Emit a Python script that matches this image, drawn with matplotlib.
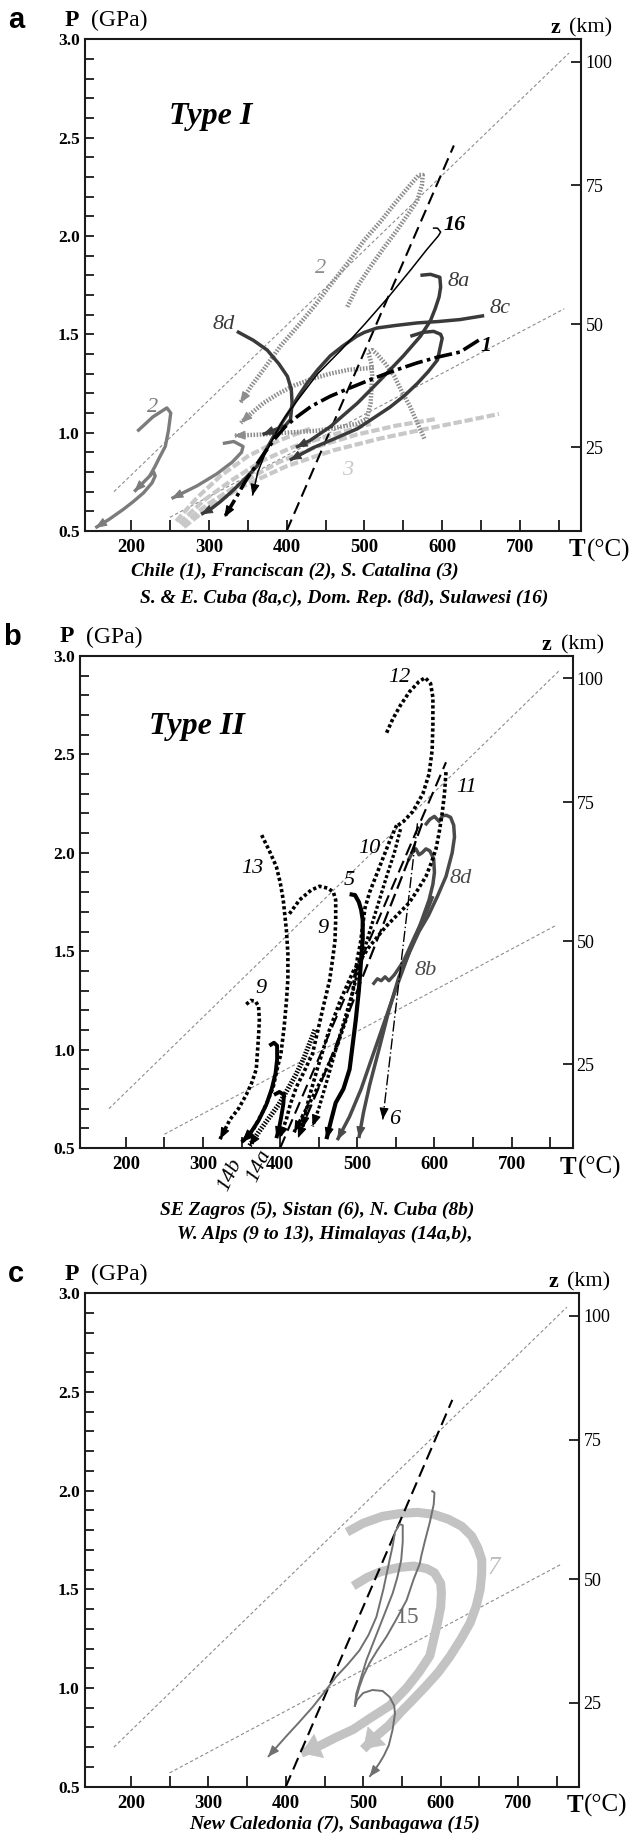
import numpy as np
import matplotlib
matplotlib.use("Agg")
import matplotlib.pyplot as plt

plt.rcParams['font.family'] = ['Liberation Serif', 'DejaVu Serif']

W, H = 630, 1836
fig = plt.figure(figsize=(6.3, 18.36), dpi=100)

# ---------------- axes / scales ----------------
T_LIM = (141, 779)
P_LIM = (0.5, 3.0)
T_MAJOR = [200, 300, 400, 500, 600, 700]
T_MINOR = [250, 350, 450, 550, 650, 750]
P_MAJOR = [0.5, 1.0, 1.5, 2.0, 2.5, 3.0]
P_MINOR = [0.6, 0.7, 0.8, 0.9, 1.1, 1.2, 1.3, 1.4, 1.6, 1.7, 1.8, 1.9,
           2.1, 2.2, 2.3, 2.4, 2.6, 2.7, 2.8, 2.9]
Z_LABELS = ['25', '50', '75', '100']
Z_AT_P = [0.925, 1.55, 2.258, 2.887]

# reference lines (common)
geo_hi_T = [178, 763]
geo_hi_P = [0.70, 2.93]
geo_lo_T = [250, 757]
geo_lo_P = [0.57, 1.63]
ref_T = [400, 615]
ref_P = [0.50, 2.46]

# ---------------- panel a data ----------------
a_chile_T = [647, 623, 595, 568, 538, 508, 480, 456, 432, 413, 398, 385, 372, 360, 348, 335, 320]
a_chile_P = [1.47, 1.41, 1.385, 1.355, 1.315, 1.27, 1.225, 1.185, 1.135, 1.08, 1.03, 0.97, 0.90, 0.83, 0.76, 0.67, 0.57]

a_8c_T = [654, 623, 595, 568, 540, 516, 500, 490, 472, 456, 440, 426, 415, 405, 394, 383, 372, 362, 345, 328, 315, 302, 290]
a_8c_P = [1.595, 1.575, 1.565, 1.558, 1.545, 1.532, 1.51, 1.49, 1.44, 1.39, 1.32, 1.25, 1.185, 1.117, 1.05, 0.98, 0.90, 0.83, 0.76, 0.695, 0.65, 0.61, 0.585]

a_8a_T = [572, 585, 597, 598, 596, 591, 585, 572, 550, 521, 491, 456, 430, 412]
a_8a_P = [1.80, 1.805, 1.79, 1.74, 1.69, 1.63, 1.57, 1.49, 1.39, 1.27, 1.15, 1.03, 0.96, 0.925]

a_loop_T = [559, 575, 589, 598, 600, 594, 582, 568, 552, 533, 512, 491, 462, 435, 404]
a_loop_P = [1.49, 1.51, 1.515, 1.50, 1.48, 1.37, 1.31, 1.25, 1.19, 1.13, 1.075, 1.02, 0.97, 0.925, 0.86]

a_8d_T = [336, 357, 375, 390, 401, 406, 407, 405, 398, 385, 369]
a_8d_P = [1.515, 1.47, 1.42, 1.35, 1.286, 1.22, 1.151, 1.067, 1.035, 1.015, 0.99]

a_16_T = [588, 594, 598, 595, 580, 560, 531, 500, 470, 440, 415, 398, 385, 372, 363, 356]
a_16_P = [2.04, 2.04, 2.02, 2.00, 1.93, 1.83, 1.69, 1.55, 1.42, 1.30, 1.17, 1.08, 0.99, 0.89, 0.80, 0.68]

a_2loop_T = [478, 492, 508, 525, 542, 556, 568, 574, 575, 570, 559, 540, 520, 500, 478, 456, 435, 414, 392, 372, 355, 340]
a_2loop_P = [1.64, 1.75, 1.845, 1.94, 2.03, 2.11, 2.18, 2.26, 2.31, 2.31, 2.26, 2.17, 2.07, 1.98, 1.86, 1.75, 1.64, 1.54, 1.44, 1.33, 1.24, 1.15]

a_hatB_T = [577, 568, 559, 548, 538, 527, 516, 510, 505, 509, 510, 508, 503, 490, 470, 440, 400, 365, 332]
a_hatB_P = [0.97, 1.05, 1.13, 1.21, 1.29, 1.35, 1.40, 1.42, 1.41, 1.35, 1.29, 1.15, 1.07, 1.045, 1.03, 1.01, 1.00, 0.99, 0.985]

a_hatD_T = [512, 480, 456, 430, 410, 390, 370, 355, 341]
a_hatD_P = [1.33, 1.32, 1.30, 1.27, 1.24, 1.20, 1.15, 1.10, 1.05]

a_3a_T = [268, 300, 340, 400, 460, 520, 580, 630, 673]
a_3a_P = [0.52, 0.62, 0.72, 0.83, 0.91, 0.97, 1.02, 1.06, 1.095]
a_3b_T = [265, 300, 340, 390, 440, 490, 540, 593]
a_3b_P = [0.53, 0.64, 0.74, 0.85, 0.93, 0.99, 1.035, 1.07]
a_3c_T = [262, 295, 330, 370, 410, 460, 508]
a_3c_P = [0.54, 0.66, 0.76, 0.86, 0.93, 0.99, 1.045]
a_3d_T = [258, 285, 315, 350, 390, 430]
a_3d_P = [0.55, 0.67, 0.78, 0.88, 0.96, 1.02]

a_2lowA_T = [208, 228, 246, 251, 248, 244, 236, 231, 224, 214, 204]
a_2lowA_P = [1.007, 1.08, 1.126, 1.10, 1.01, 0.93, 0.87, 0.83, 0.78, 0.74, 0.70]
a_2lowB_T = [224, 229, 231, 227, 216, 203, 190, 172, 154]
a_2lowB_P = [0.78, 0.80, 0.78, 0.745, 0.694, 0.65, 0.61, 0.56, 0.516]
a_2hook_T = [318, 332, 344, 342, 330, 310, 285, 252]
a_2hook_P = [0.945, 0.955, 0.93, 0.90, 0.85, 0.79, 0.73, 0.665]

# ---------------- panel b data ----------------
b_12_T = [538, 546, 556, 568, 580, 588, 595, 598, 598, 597, 593, 585, 572, 560, 551]
b_12_P = [2.61, 2.68, 2.75, 2.82, 2.87, 2.89, 2.86, 2.79, 2.65, 2.52, 2.40, 2.30, 2.21, 2.16, 2.135]
b_10_T = [551, 542, 533, 524, 516, 510, 507, 504, 500, 494, 486, 474, 460, 445, 430, 418]
b_10_P = [2.14, 2.06, 1.97, 1.88, 1.80, 1.72, 1.63, 1.54, 1.46, 1.29, 1.16, 1.02, 0.90, 0.78, 0.67, 0.58]
b_11_T = [615, 613, 610, 606, 602, 596, 589, 578, 567, 552, 537, 515, 495, 478, 462, 448, 437, 429]
b_11_P = [2.41, 2.30, 2.20, 2.10, 2.02, 1.95, 1.88, 1.81, 1.745, 1.685, 1.625, 1.52, 1.40, 1.25, 1.08, 0.90, 0.75, 0.60]
b_13_T = [376, 386, 395, 400, 404, 408, 410, 410, 408, 405, 401, 396, 391, 384, 377, 366, 352]
b_13_P = [2.09, 2.01, 1.93, 1.85, 1.76, 1.61, 1.49, 1.36, 1.24, 1.11, 0.98, 0.90, 0.81, 0.74, 0.68, 0.60, 0.535]
b_9u_T = [412, 425, 440, 451, 462, 469, 472, 472, 471, 468, 464, 456, 442, 430, 421, 413, 408, 399]
b_9u_P = [1.69, 1.76, 1.81, 1.83, 1.82, 1.80, 1.76, 1.66, 1.55, 1.46, 1.35, 1.22, 0.98, 0.88, 0.81, 0.72, 0.645, 0.55]
b_9l_T = [356, 362, 368, 372, 373, 372, 369, 363, 356, 346, 335, 322]
b_9l_P = [1.23, 1.25, 1.245, 1.22, 1.15, 1.07, 0.90, 0.83, 0.77, 0.70, 0.645, 0.545]
b_dot4_T = [556, 548, 538, 527, 516, 505, 493, 478, 462, 450, 442]
b_dot4_P = [2.12, 2.00, 1.88, 1.74, 1.60, 1.45, 1.28, 1.08, 0.86, 0.70, 0.61]
b_hook_T = [386, 392, 396, 396, 394, 389, 382, 372, 360, 350]
b_hook_P = [1.02, 1.035, 1.02, 0.95, 0.88, 0.80, 0.72, 0.64, 0.567, 0.53]
b_5_T = [490, 497, 502, 505, 507, 507, 505, 502, 498, 490, 482, 472, 466, 460]
b_5_P = [1.79, 1.785, 1.75, 1.71, 1.66, 1.56, 1.46, 1.30, 1.15, 0.90, 0.80, 0.73, 0.64, 0.545]
b_14a_T = [392, 399, 405, 404, 401, 398, 395]
b_14a_P = [0.77, 0.785, 0.77, 0.72, 0.65, 0.59, 0.55]
b_14b_T = [445, 438, 430, 420, 410, 398, 385, 372, 360]
b_14b_P = [1.10, 1.03, 0.95, 0.87, 0.80, 0.72, 0.65, 0.58, 0.51]
b_6_T = [578, 533]
b_6_P = [2.15, 0.645]
b_dash_T = [584, 575, 563, 548, 532, 515, 498, 480, 462, 445, 432, 423]
b_dash_P = [2.15, 2.05, 1.93, 1.78, 1.62, 1.45, 1.28, 1.10, 0.92, 0.76, 0.64, 0.55]
b_8d_T = [588, 594, 600, 606, 611, 616, 621, 625, 626, 623, 615, 604, 592, 580, 567, 554, 541, 528, 516, 508, 502]
b_8d_P = [2.14, 2.17, 2.185, 2.16, 2.19, 2.19, 2.18, 2.14, 2.08, 2.00, 1.88, 1.78, 1.68, 1.60, 1.49, 1.37, 1.20, 1.00, 0.82, 0.68, 0.55]
b_8x_T = [566, 571, 576, 580, 584, 589, 594, 599, 600, 598, 593, 582, 567, 552, 536, 520, 505, 490, 474]
b_8x_P = [1.96, 2.00, 2.02, 1.99, 2.00, 2.02, 2.01, 1.97, 1.90, 1.84, 1.76, 1.64, 1.49, 1.33, 1.15, 0.97, 0.80, 0.66, 0.54]
b_8b_T = [520, 526, 531, 536, 541, 548, 560, 575, 590, 598]
b_8b_P = [1.33, 1.36, 1.35, 1.37, 1.35, 1.38, 1.45, 1.58, 1.70, 1.78]

# ---------------- panel c data ----------------
c_7out_T = [479, 500, 525, 549, 570, 591, 610, 627, 640, 648, 653, 653, 651, 646, 638, 626, 612, 597, 581, 565, 549, 533, 518, 500]
c_7out_P = [1.79, 1.835, 1.87, 1.885, 1.89, 1.88, 1.855, 1.82, 1.77, 1.71, 1.65, 1.58, 1.50, 1.416, 1.33, 1.247, 1.16, 1.08, 1.01, 0.944, 0.88, 0.81, 0.76, 0.69]
c_7in_T = [487, 505, 523, 545, 565, 582, 592, 600, 601, 600, 596, 586, 572, 556, 534, 510, 487, 465, 445, 420]
c_7in_P = [1.517, 1.56, 1.59, 1.61, 1.618, 1.605, 1.584, 1.53, 1.483, 1.41, 1.33, 1.163, 1.08, 1.00, 0.91, 0.85, 0.79, 0.75, 0.71, 0.67]
c_15m_T = [489, 491, 497, 504, 512, 521, 530, 538, 544, 549, 551, 551, 547, 541, 538, 534, 526, 517, 507, 495, 480, 465, 450, 435, 418, 400, 388, 377]
c_15m_P = [0.905, 0.97, 1.05, 1.14, 1.22, 1.31, 1.40, 1.48, 1.56, 1.648, 1.74, 1.825, 1.83, 1.79, 1.72, 1.648, 1.50, 1.36, 1.27, 1.19, 1.12, 1.057, 0.98, 0.905, 0.83, 0.753, 0.70, 0.651]
c_15z_T = [489, 492, 500, 512, 525, 534, 540, 541, 538, 533, 527, 521, 514, 508]
c_15z_P = [0.905, 0.94, 0.975, 0.99, 0.985, 0.955, 0.91, 0.87, 0.79, 0.71, 0.66, 0.62, 0.58, 0.55]
c_15a_T = [588, 592, 591, 586, 580, 575, 573, 565, 556, 543, 530, 518, 508, 500, 495, 491, 490]
c_15a_P = [2.00, 1.99, 1.93, 1.84, 1.75, 1.67, 1.63, 1.55, 1.445, 1.35, 1.26, 1.19, 1.125, 1.06, 1.005, 0.95, 0.92]

# ---------------- helpers ----------------
def px_axes(l, t, r, b):
    return fig.add_axes([l / W, 1 - b / H, (r - l) / W, (b - t) / H])

def ftext(px, py, s, **kw):
    fig.text(px / W, 1 - py / H, s, **kw)

def add_arrow(ax, T, P, color, hl=0.7, hw=0.28, ms=10, alw=0.8):
    p1 = ax.transData.transform((T[-1], P[-1]))
    p0 = ax.transData.transform((T[-2], P[-2]))
    d = p1 - p0
    d = d / np.hypot(d[0], d[1])
    L = hl * ms
    ax.annotate('', xy=(T[-1], P[-1]), xycoords='data',
                xytext=(-d[0] * L, -d[1] * L), textcoords='offset points',
                arrowprops=dict(arrowstyle=f'-|>,head_length={hl},head_width={hw}',
                                color=color, lw=alw, mutation_scale=ms,
                                shrinkA=0, shrinkB=0))

def path(ax, T, P, color, lw, ls='-', arrow=True, **akw):
    ax.plot(T, P, color=color, lw=lw, ls=ls, solid_capstyle='butt',
            dash_capstyle='butt', solid_joinstyle='round')
    if arrow:
        add_arrow(ax, T, P, color, **akw)

def setup(ax, letter, lpx, tpx, rpx, bpx):
    ax.set_xlim(*T_LIM)
    ax.set_ylim(*P_LIM)
    for s in ax.spines.values():
        s.set_linewidth(1.5)
        s.set_color('#1a1a1a')
    ax.set_xticks(T_MAJOR)
    ax.set_xticks(T_MINOR, minor=True)
    ax.set_yticks(P_MAJOR)
    ax.set_yticks(P_MINOR, minor=True)
    ax.set_xticklabels([str(t) for t in T_MAJOR], fontweight='bold', fontsize=13.5)
    ax.set_yticklabels([f'{p:.1f}' for p in P_MAJOR], fontweight='bold', fontsize=12.5)
    ax.tick_params(axis='x', which='both', direction='in', length=8, width=1.3,
                   pad=6, top=False, color='#1a1a1a')
    ax.tick_params(axis='y', which='both', direction='in', length=6.5, width=1.3,
                   pad=4, right=False, color='#1a1a1a')
    ax2 = ax.twinx()
    ax2.set_ylim(*P_LIM)
    ax2.set_yticks(Z_AT_P)
    ax2.set_yticklabels(Z_LABELS, fontsize=13)
    ax2.tick_params(axis='y', direction='in', length=7, width=1.3, pad=3, color='#1a1a1a')
    for s in ax2.spines.values():
        s.set_visible(False)
    # reference lines
    ax.plot(geo_hi_T, geo_hi_P, color='#8c8c8c', lw=0.8, ls=(0, (3, 2.2)))
    ax.plot(geo_lo_T, geo_lo_P, color='#8c8c8c', lw=0.8, ls=(0, (3, 2.2)))
    # outside labels
    ym = tpx - 19
    ftext(lpx - 77, ym, letter, fontfamily='Liberation Sans', fontweight='bold',
          fontsize=21, ha='left', va='center')
    ftext(lpx - 21, ym, 'P', fontweight='bold', fontsize=17, ha='left', va='center')
    ftext(lpx + 6, ym, '(GPa)', fontsize=17, ha='left', va='center')
    ftext(rpx - 31, tpx - 11, 'z', fontweight='bold', fontsize=16, ha='left', va='center')
    ftext(rpx - 12, tpx - 11, '(km)', fontsize=16, ha='left', va='center')
    ftext(rpx - 13, bpx + 19, 'T', fontweight='bold', fontsize=18, ha='left', va='center')
    ftext(rpx + 5, bpx + 19, '(°C)', fontsize=18, ha='left', va='center')

DARK = '#3a3a3a'
GRAY = '#7c7c7c'
HATCH = '#8d8d8d'
LIGHT = '#c8c8c8'
lab = dict(fontstyle='italic', fontsize=16, ha='center', va='center')
cap = dict(fontweight='bold', fontstyle='italic', fontsize=14, ha='center', va='center')
HATCH_LS = (0, (0.35, 0.35))

# ================= panel a =================
axa = px_axes(85.2, 39.3, 581.4, 531)
setup(axa, 'a', 85.2, 39.3, 581.4, 531)
for T, P in [(a_3a_T, a_3a_P), (a_3b_T, a_3b_P), (a_3c_T, a_3c_P), (a_3d_T, a_3d_P)]:
    path(axa, T, P, LIGHT, 3.0, ls=(0, (2.0, 0.7)), arrow=False)
path(axa, a_2loop_T, a_2loop_P, HATCH, 3.2, ls=HATCH_LS)
path(axa, a_hatB_T, a_hatB_P, HATCH, 3.2, ls=HATCH_LS)
path(axa, a_hatD_T, a_hatD_P, HATCH, 3.2, ls=HATCH_LS)
path(axa, a_2lowA_T, a_2lowA_P, GRAY, 2.4)
path(axa, a_2lowB_T, a_2lowB_P, GRAY, 2.4)
path(axa, a_2hook_T, a_2hook_P, GRAY, 2.4)
axa.plot(ref_T, ref_P, color='black', lw=1.5, ls=(0, (6, 3)))
path(axa, a_8c_T, a_8c_P, DARK, 2.5)
path(axa, a_8a_T, a_8a_P, DARK, 2.5)
path(axa, a_loop_T, a_loop_P, DARK, 2.5)
path(axa, a_8d_T, a_8d_P, DARK, 2.5)
path(axa, a_chile_T, a_chile_P, 'black', 2.6, ls=(0, (5, 1.2, 1, 1.2)))
path(axa, a_16_T, a_16_P, 'black', 1.1)
axa.text(302, 2.61, 'Type I', fontweight='bold', fontstyle='italic', fontsize=23,
         ha='center', va='center')
axa.text(443, 1.835, '2', color=HATCH, **lab)
axa.text(616, 2.054, '16', fontweight='bold', **lab)
axa.text(621, 1.768, '8a', color=DARK, **lab)
axa.text(675, 1.63, '8c', color=DARK, **lab)
axa.text(319, 1.552, '8d', color=DARK, **lab)
axa.text(657, 1.443, '1', fontweight='bold', **lab)
axa.text(228, 1.13, '2', color=GRAY, **lab)
axa.text(479, 0.81, '3', color=LIGHT, **lab)
ftext(295, 571.5, 'Chile (1), Franciscan (2), S. Catalina (3)', **cap)
ftext(344.5, 598, 'S. & E. Cuba (8a,c), Dom. Rep. (8d), Sulawesi (16)', **cap)

# ================= panel b =================
axb = px_axes(80.4, 656, 572.5, 1148)
setup(axb, 'b', 80.4, 656, 572.5, 1148)
axb.plot(ref_T, ref_P, color='black', lw=1.5, ls=(0, (6, 3)))
DOT = (0, (0.9, 0.7))
path(axb, b_8b_T, b_8b_P, '#4a4a4a', 2.4, arrow=False)
path(axb, b_8d_T, b_8d_P, '#4a4a4a', 2.5)
path(axb, b_8x_T, b_8x_P, '#4a4a4a', 2.5)
path(axb, b_12_T, b_12_P, 'black', 2.6, ls=DOT, arrow=False)
path(axb, b_10_T, b_10_P, 'black', 2.6, ls=DOT)
path(axb, b_11_T, b_11_P, 'black', 2.6, ls=DOT)
path(axb, b_13_T, b_13_P, 'black', 2.6, ls=DOT)
path(axb, b_9u_T, b_9u_P, 'black', 2.6, ls=DOT)
path(axb, b_9l_T, b_9l_P, 'black', 2.6, ls=DOT)
path(axb, b_dot4_T, b_dot4_P, 'black', 2.4, ls=DOT)
path(axb, b_dash_T, b_dash_P, 'black', 1.6, ls=(0, (6, 2.5)))
path(axb, b_6_T, b_6_P, 'black', 1.0, ls=(0, (8, 2, 1, 2)))
path(axb, b_14b_T, b_14b_P, 'black', 3.6, ls=(0, (0.3, 0.3)))
path(axb, b_hook_T, b_hook_P, 'black', 2.8)
path(axb, b_14a_T, b_14a_P, 'black', 2.8)
path(axb, b_5_T, b_5_P, 'black', 3.0)
axb.text(292, 2.64, 'Type II', fontweight='bold', fontstyle='italic', fontsize=23,
         ha='center', va='center')
axb.text(554, 2.89, '12', **lab)
axb.text(642, 2.33, '11', **lab)
axb.text(515, 2.02, '10', **lab)
axb.text(364, 1.92, '13', **lab)
axb.text(489, 1.86, '5', **lab)
axb.text(634, 1.867, '8d', color='#4a4a4a', **lab)
axb.text(455, 1.613, '9', **lab)
axb.text(375, 1.31, '9', **lab)
axb.text(588, 1.40, '8b', color='#4a4a4a', **lab)
axb.text(548, 0.645, '6', **lab)
axb.text(334.6, 0.365, '14b', rotation=65, clip_on=False, **lab)
axb.text(373, 0.41, '14a', rotation=65, clip_on=False, **lab)
ftext(317.4, 1210, 'SE Zagros (5), Sistan (6), N. Cuba (8b)', **cap)
ftext(325, 1234, 'W. Alps (9 to 13), Himalayas (14a,b),', **cap)

# ================= panel c =================
axc = px_axes(85.2, 1293.3, 579.3, 1786.7)
setup(axc, 'c', 85.2, 1293.3, 579.3, 1786.7)
path(axc, c_7out_T, c_7out_P, '#c3c3c3', 6.5, hl=1.1, hw=0.75, ms=12, alw=0.5)
path(axc, c_7in_T, c_7in_P, '#c3c3c3', 6.5, hl=1.1, hw=0.75, ms=12, alw=0.5)
axc.plot(ref_T, ref_P, color='black', lw=1.5, ls=(0, (6, 3)))
path(axc, c_15a_T, c_15a_P, '#707070', 1.4, arrow=False)
path(axc, c_15m_T, c_15m_P, '#707070', 1.4)
path(axc, c_15z_T, c_15z_P, '#707070', 1.4)
axc.text(669, 1.61, '7', color='#bdbdbd', fontstyle='italic', fontsize=18,
         ha='center', va='center')
axc.text(557, 1.357, '15', color='#6a6a6a', fontsize=17, ha='center', va='center')
ftext(335, 1824, 'New Caledonia (7), Sanbagawa (15)', **cap)

fig.savefig('out.png', dpi=100)
